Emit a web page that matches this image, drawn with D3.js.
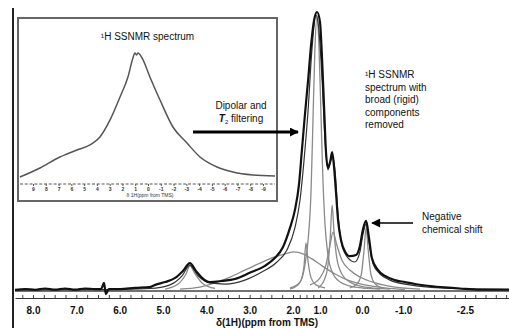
<!DOCTYPE html>
<html>
<head>
<meta charset="utf-8">
<script src="https://cdn.jsdelivr.net/npm/d3@7"></script>
<style>
    body { margin: 0; background: #fff; }
    svg { display: block; font-family: "Liberation Sans", Arial, sans-serif; }
</style>
</head>
<body>
<div id="chart"></div>
<script>
// Main spectrum axis
const mainTicks = [8.0, 7.0, 6.0, 5.0, 4.0, 3.0, 2.0, 1.0, 0.0, -1.0, -2.5];
const mainTickLabels = ['8.0', '7.0', '6.0', '5.0', '4.0', '3.0', '2.0', '1.0', '0.0', '-1.0', '-2.5'];

// Inset axis
const insetTicks = [9, 8, 7, 6, 5, 4, 3, 2, 1, 0, -1, -2, -3, -4, -5, -6, -7, -8, -9];

// Spectra as [ppm, intensity]
const experimental = [
    [8.42, 0.4], [8.18, 0.7], [7.95, 0.4], [7.72, 0.9], [7.49, 0.5], [7.26, 0.9], [7.03, 0.5],
    [6.80, 0.9], [6.57, 0.7], [6.43, 0.7], [6.36, 2.9], [6.32, -1.1], [6.25, 0.7], [5.99, 0.7],
    [5.65, 1.1], [5.30, 1.4], [5.18, 2.2], [4.95, 3.2], [4.72, 4.7], [4.54, 7.2], [4.38, 10.0],
    [4.24, 7.2], [4.10, 4.7], [3.92, 3.2], [3.64, 3.6], [3.34, 4.3], [3.00, 6.5], [2.65, 9.0],
    [2.42, 11.8], [2.23, 15.8], [2.07, 22.6], [1.93, 29.0], [1.78, 38.0], [1.67, 50.5],
    [1.56, 63.0], [1.44, 75.6], [1.33, 88.2], [1.22, 97.1], [1.11, 100], [1.00, 96.4],
    [0.95, 82.8], [0.90, 64.9], [0.86, 50.5], [0.81, 44.1], [0.76, 46.2], [0.71, 49.8],
    [0.67, 45.2], [0.62, 35.5], [0.57, 25.4], [0.50, 18.3], [0.40, 14.0], [0.29, 12.5],
    [0.14, 12.9], [0.05, 16.1], [-0.02, 21.9], [-0.10, 25.1], [-0.17, 19.0], [-0.24, 11.8],
    [-0.39, 7.5], [-0.56, 5.4], [-0.80, 3.9], [-1.04, 3.2], [-1.29, 2.5], [-1.65, 1.8],
    [-2.01, 1.3], [-2.38, 0.9], [-2.86, 0.5], [-3.57, 0.5]
];

const fitTotal = [
    [8.42, 0.4], [6.45, 0.5], [5.30, 0.9], [4.84, 2.2], [4.56, 5.4], [4.38, 9.3], [4.19, 5.4],
    [3.92, 2.9], [3.57, 2.5], [3.11, 3.9], [2.72, 6.8], [2.37, 10.4], [2.14, 14.7], [1.93, 22.6],
    [1.74, 32.6], [1.59, 47.0], [1.44, 64.9], [1.30, 86.4], [1.15, 98.9], [1.04, 93.5],
    [0.95, 75.6], [0.88, 54.1], [0.81, 43.4], [0.74, 47.0], [0.69, 47.7], [0.64, 42.7],
    [0.57, 27.2], [0.48, 16.5], [0.33, 11.8], [0.17, 10.4], [0.05, 14.0], [-0.02, 20.1],
    [-0.10, 24.0], [-0.17, 17.6], [-0.27, 9.7], [-0.44, 6.1], [-0.68, 3.9], [-1.16, 2.2],
    [-1.89, 1.1], [-3.57, 0.5]
];

const compMain = [
    [2.07, 1.1], [1.74, 3.2], [1.56, 9.3], [1.44, 18.3], [1.33, 36.2], [1.26, 61.3],
    [1.19, 86.4], [1.11, 98.6], [1.04, 88.2], [0.98, 64.9], [0.93, 39.8], [0.88, 23.7],
    [0.81, 12.9], [0.71, 6.8], [0.52, 3.2], [0.17, 1.4], [-0.44, 0.7]
];

const compNarrow = [
    [2.07, 0.7], [1.81, 2.2], [1.67, 4.7], [1.59, 9.0], [1.52, 17.2], [1.44, 10.4],
    [1.33, 4.7], [1.15, 2.2], [0.88, 1.1]
];

const compBroad = [
    [4.61, 0.7], [4.15, 1.4], [3.80, 2.9], [3.45, 5.0], [3.11, 7.5], [2.76, 10.0],
    [2.42, 12.2], [2.18, 13.3], [1.96, 14.0], [1.63, 13.3], [1.30, 11.5], [0.95, 9.0],
    [0.64, 6.1], [0.29, 3.6], [-0.07, 2.2], [-0.56, 1.1], [-1.04, 0.5]
];

const compShoulder = [
    [1.07, 1.1], [0.90, 3.9], [0.81, 9.3], [0.76, 18.3], [0.71, 30.8], [0.67, 21.9],
    [0.60, 11.8], [0.48, 6.1], [0.29, 3.2], [-0.07, 1.4], [-0.68, 0.7]
];

const compShoulderBroad = [
    [1.37, 2.2], [1.00, 4.7], [0.86, 9.3], [0.76, 16.5], [0.69, 21.1], [0.60, 16.5],
    [0.48, 11.1], [0.29, 7.5], [0.05, 5.0], [-0.32, 2.9], [-0.80, 1.4], [-1.41, 0.7]
];

const compNegative = [
    [0.29, 1.1], [0.12, 2.5], [0.02, 5.7], [-0.05, 14.7], [-0.10, 22.6], [-0.15, 14.7],
    [-0.22, 5.7], [-0.32, 2.5], [-0.49, 1.1]
];

const compWater = [
    [4.95, 0.7], [4.65, 2.5], [4.47, 6.1], [4.38, 9.0], [4.26, 6.1], [4.10, 2.9], [3.80, 0.9]
];

const components = [compMain, compNarrow, compBroad, compShoulder, compShoulderBroad, compNegative, compWater];

// Inset: full 1H SSNMR spectrum
const insetSpectrum = [
    [10.02, 5.3], [8.45, 12.2], [6.89, 20.6], [6.34, 22.9], [5.56, 26.0], [4.54, 29.8],
    [3.76, 35.9], [2.97, 48.9], [2.19, 66.4], [1.57, 81.7], [1.18, 96.2], [1.02, 100],
    [0.90, 98.5], [0.78, 100], [0.47, 96.2], [-0.15, 81.7], [-0.94, 64.1], [-1.95, 43.5],
    [-3.05, 31.3], [-4.07, 20.6], [-5.40, 13.0], [-6.65, 9.2], [-8.21, 6.9], [-9.94, 6.1]
];

const width = 509;
const height = 328;

const svg = d3.select('#chart').append('svg')
    .attr('width', width)
    .attr('height', height);

// Arrow heads
const defs = svg.append('defs');
defs.append('marker')
    .attr('id', 'head-thick')
    .attr('viewBox', '0 0 10 10')
    .attr('refX', 9)
    .attr('refY', 5)
    .attr('markerWidth', 3)
    .attr('markerHeight', 3)
    .attr('orient', 'auto')
    .append('path')
    .attr('d', 'M0,0L10,5L0,10Z')
    .attr('fill', '#000');
defs.append('marker')
    .attr('id', 'head-thin')
    .attr('viewBox', '0 0 10 10')
    .attr('refX', 9)
    .attr('refY', 5)
    .attr('markerWidth', 7)
    .attr('markerHeight', 6)
    .attr('orient', 'auto')
    .append('path')
    .attr('d', 'M0,0L10,5L0,10Z')
    .attr('fill', '#000');

// Left frame edge
svg.append('line')
    .attr('x1', 13).attr('x2', 13)
    .attr('y1', 8).attr('y2', height)
    .attr('stroke', '#222')
    .attr('stroke-width', 2);

// Main scales (tick labels of the original sit unevenly, so the scale is piecewise)
const x = d3.scaleLinear()
    .domain([8.42, 8, 2, 1, 0, -3.57])
    .range([15, 33, 293, 320, 362, width]);

const y = d3.scaleLinear()
    .domain([0, 100])
    .range([291, 12]);

const line = d3.line()
    .x(d => x(d[0]))
    .y(d => y(d[1]))
    .curve(d3.curveMonotoneX);

// Baseline
svg.append('line')
    .attr('x1', x(8.42)).attr('x2', x(-3.57))
    .attr('y1', y(0)).attr('y2', y(0))
    .attr('stroke', '#444')
    .attr('stroke-width', 1.5);

// Fitted components
svg.append('g')
    .selectAll('path')
    .data(components)
    .join('path')
    .attr('d', line)
    .attr('fill', 'none')
    .attr('stroke', '#8a8a8a')
    .attr('stroke-width', 1.3);

// Total fit
svg.append('path')
    .datum(fitTotal)
    .attr('d', line)
    .attr('fill', 'none')
    .attr('stroke', '#333')
    .attr('stroke-width', 1.2);

// Experimental spectrum
svg.append('path')
    .datum(experimental)
    .attr('d', line)
    .attr('fill', 'none')
    .attr('stroke', '#111')
    .attr('stroke-width', 2.2);

// Main x axis: minor ticks on the line, labels below
const axisY = 298;
svg.append('g')
    .attr('transform', `translate(0,${axisY})`)
    .call(d3.axisTop(x)
        .tickValues(d3.range(-3.5, 8.5, 0.25))
        .tickSize(3)
        .tickSizeOuter(0)
        .tickFormat(''))
    .call(g => g.selectAll('line').attr('stroke', '#444'))
    .call(g => g.select('.domain').attr('stroke', '#333').attr('stroke-width', 1.2));

svg.append('g')
    .attr('transform', `translate(0,${axisY})`)
    .call(d3.axisBottom(x)
        .tickValues(mainTicks)
        .tickSize(0)
        .tickPadding(9)
        .tickFormat((d, i) => mainTickLabels[i]))
    .call(g => g.select('.domain').remove())
    .call(g => g.selectAll('text')
        .attr('fill', '#111')
        .style('font-size', '10px')
        .style('font-family', '"Liberation Sans", Arial, sans-serif')
        .style('font-weight', 'bold'));

svg.append('text')
    .attr('x', 267)
    .attr('y', 326)
    .attr('text-anchor', 'middle')
    .style('font-size', '10px')
    .style('font-weight', 'bold')
    .attr('fill', '#111')
    .text('δ(1H)(ppm from TMS)');

// Inset box
const inset = {x0: 18, y0: 18, x1: 277, y1: 201};
svg.append('rect')
    .attr('x', inset.x0)
    .attr('y', inset.y0)
    .attr('width', inset.x1 - inset.x0)
    .attr('height', inset.y1 - inset.y0)
    .attr('fill', '#fff')
    .attr('stroke', '#666')
    .attr('stroke-width', 2);

const ix = d3.scaleLinear()
    .domain([9, -9])
    .range([33, 263]);

const iy = d3.scaleLinear()
    .domain([0, 100])
    .range([184, 53]);

svg.append('path')
    .datum(insetSpectrum)
    .attr('d', d3.line()
        .x(d => ix(d[0]))
        .y(d => iy(d[1]))
        .curve(d3.curveMonotoneX))
    .attr('fill', 'none')
    .attr('stroke', '#555')
    .attr('stroke-width', 1.5);

// Inset axis
svg.append('line')
    .attr('x1', 20).attr('x2', 275)
    .attr('y1', iy(0)).attr('y2', iy(0))
    .attr('stroke', '#555')
    .attr('stroke-width', 1)
    .attr('stroke-dasharray', '3,1.8');

svg.append('g')
    .attr('transform', `translate(0,${iy(0)})`)
    .call(d3.axisBottom(ix)
        .tickValues(insetTicks)
        .tickSize(2)
        .tickPadding(1)
        .tickFormat(d => String(d).replace('\u2212', '-')))
    .call(g => g.select('.domain').remove())
    .call(g => g.selectAll('line').attr('stroke', '#555'))
    .call(g => g.selectAll('text')
        .attr('fill', '#333')
        .style('font-size', '5px')
        .style('font-weight', 'bold'));

svg.append('text')
    .attr('x', 150)
    .attr('y', 197)
    .attr('text-anchor', 'middle')
    .style('font-size', '5px')
    .attr('fill', '#333')
    .text('δ 1H(ppm from TMS)');

svg.append('text')
    .attr('x', (inset.x0 + inset.x1) / 2)
    .attr('y', 40)
    .attr('text-anchor', 'middle')
    .style('font-size', '10px')
    .attr('fill', '#111')
    .text('¹H SSNMR spectrum');

// Annotations
const dipolar = svg.append('text')
    .attr('x', 241)
    .attr('y', 109)
    .attr('text-anchor', 'middle')
    .style('font-size', '10px')
    .attr('fill', '#111');
dipolar.append('tspan').text('Dipolar and');
const t2 = dipolar.append('tspan').attr('x', 241).attr('dy', 13);
t2.append('tspan').style('font-weight', 'bold').style('font-style', 'italic').text('T');
t2.append('tspan').style('font-size', '6px').attr('dy', 2).text('2');
t2.append('tspan').attr('dy', -2).text(' filtering');

svg.append('line')
    .attr('x1', 193).attr('x2', 298)
    .attr('y1', 132).attr('y2', 132)
    .attr('stroke', '#000')
    .attr('stroke-width', 3)
    .attr('marker-end', 'url(#head-thick)');

const removed = ['spectrum with', 'broad (rigid)', 'components', 'removed'];
const rem = svg.append('text')
    .attr('x', 365)
    .attr('y', 78)
    .style('font-size', '10px')
    .attr('fill', '#111');
rem.append('tspan').text('¹H SSNMR');
removed.forEach(t => rem.append('tspan').attr('x', 365).attr('dy', 12.6).text(t));

const neg = svg.append('text')
    .attr('x', 422)
    .attr('y', 220)
    .style('font-size', '10px')
    .attr('fill', '#111');
neg.append('tspan').text('Negative');
neg.append('tspan').attr('x', 422).attr('dy', 13).text('chemical shift');

svg.append('line')
    .attr('x1', 413).attr('x2', 372)
    .attr('y1', 223).attr('y2', 223)
    .attr('stroke', '#000')
    .attr('stroke-width', 1.5)
    .attr('marker-end', 'url(#head-thin)');
</script>
</body>
</html>
